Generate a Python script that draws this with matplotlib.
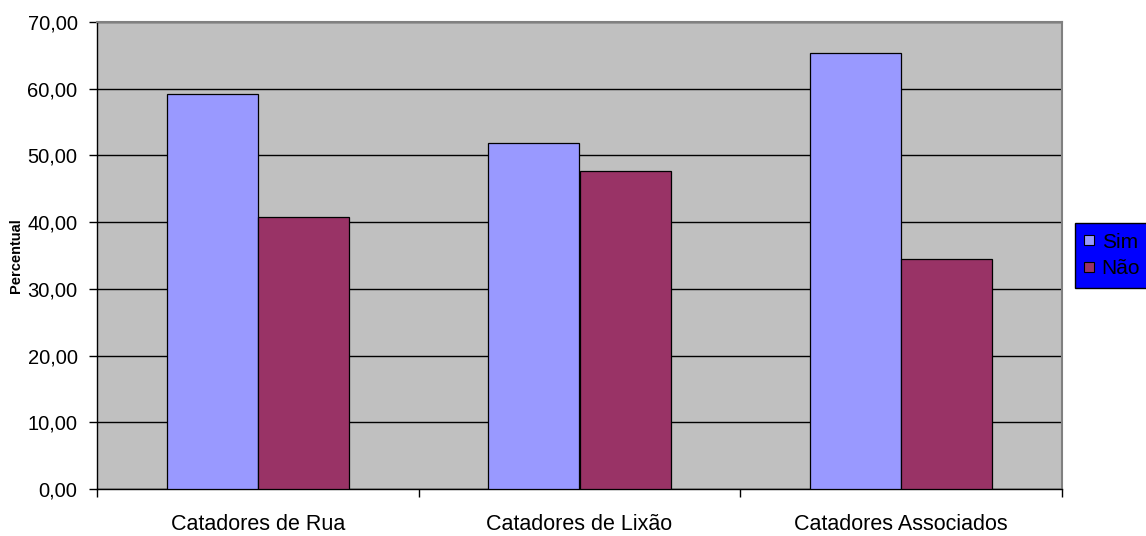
import matplotlib
matplotlib.use("Agg")
import matplotlib.pyplot as plt
from matplotlib.patches import Patch
import numpy as np

plt.rcParams['font.family'] = ['Liberation Sans', 'DejaVu Sans']

categories = ["Catadores de Rua", "Catadores de Lixão", "Catadores Associados"]
series_names = ["Sim", "Não"]
sim = [59.2, 51.9, 65.4]
nao = [40.8, 47.7, 34.5]
y_ticks = [0, 10, 20, 30, 40, 50, 60, 70]

colors = ["#9999FF", "#993366"]

fig = plt.figure(figsize=(11.46, 5.36), dpi=100)
ax = fig.add_axes([97/1146, 1 - 489/536, (1062 - 97)/1146, (489 - 22)/536])
ax.set_facecolor("#C0C0C0")

x = np.arange(len(categories))
w = 0.283
ax.bar(x - w/2, sim, width=w, color=colors[0], edgecolor="black", linewidth=0.9, zorder=3)
ax.bar(x + w/2, nao, width=w, color=colors[1], edgecolor="black", linewidth=0.9, zorder=3)

ax.set_xlim(-0.5, len(categories) - 0.5)
ax.set_ylim(0, 70)
ax.set_yticks(y_ticks)
ax.set_yticklabels([f"{v:.2f}".replace(".", ",") for v in y_ticks], fontsize=14.5)
ax.yaxis.grid(True, color="black", linewidth=1.0, zorder=1)
ax.set_axisbelow(True)

ax.set_xticks(x)
ax.set_xticklabels(categories, fontsize=15.5)
ax.tick_params(axis="x", which="major", length=0, pad=18)
ax.set_xticks(np.arange(-0.5, len(categories)), minor=True)
ax.tick_params(axis="x", which="minor", length=6, width=1, direction="out")
ax.tick_params(axis="y", length=6, width=1, direction="out", pad=8)

for s in ["left", "bottom"]:
    ax.spines[s].set_color("black")
    ax.spines[s].set_linewidth(1.0)
for s in ["top", "right"]:
    ax.spines[s].set_color("#808080")
    ax.spines[s].set_linewidth(1.5)

ax.set_ylabel("Percentual", fontsize=10.5, fontweight="bold", labelpad=3)

handles = [Patch(facecolor=c, edgecolor="black", linewidth=0.8) for c in colors]
leg = fig.legend(handles, series_names, loc="center left",
                 bbox_to_anchor=(1075/1146, 1 - 255.5/536), fontsize=15,
                 frameon=True, fancybox=False, framealpha=1,
                 facecolor="#0000FF", edgecolor="black",
                 handlelength=0.48, handleheight=0.36, handletextpad=0.35,
                 borderpad=0.45, labelspacing=0.35, borderaxespad=0)
leg.get_frame().set_linewidth(1.0)

fig.savefig("out.png", dpi=100)
